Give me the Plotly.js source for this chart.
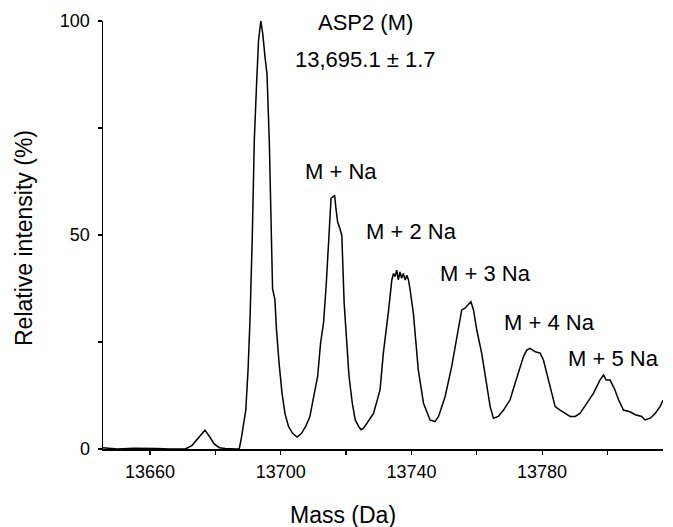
<!DOCTYPE html>
<html>
<head>
<meta charset="utf-8">
<script src="https://cdn.plot.ly/plotly-3.0.1.min.js"></script>
<style>html,body{margin:0;padding:0;background:#fff;}#chart{width:673px;height:527px;}</style>
</head>
<body>
<div id="chart"></div>
<script>
// Mass (Da)
const mass = [
  13645.6, 13650, 13655, 13658, 13662, 13666, 13670.8, 13672.8, 13675.1, 13676.8, 13678.3, 13679.6, 13681.2, 13683.0,
  13686.4, 13687.3, 13688.0, 13689.3, 13690.0, 13690.6, 13691.3, 13691.9, 13692.6, 13693.2, 13693.9, 13694.5,
  13695.2, 13695.8, 13696.5, 13697.1, 13697.5, 13698.2, 13698.7, 13699.5, 13700.4, 13701.3, 13702.4, 13703.7,
  13705.0, 13706.3, 13707.6, 13708.9, 13710.2, 13711.3, 13712.2, 13713.1, 13713.9, 13714.8, 13715.4, 13716.0,
  13716.5, 13716.9, 13717.4, 13718.1, 13718.7, 13719.4, 13720.0, 13720.9, 13721.9, 13722.8, 13723.9, 13724.6,
  13725.3, 13728.4, 13730.4, 13731.4, 13732.9, 13734.0, 13734.5, 13735.0, 13735.5, 13736.0, 13736.5, 13737.0,
  13737.5, 13738.1, 13738.6, 13739.1, 13739.6, 13740.6, 13742.1, 13743.7, 13745.7, 13747.2, 13748.3, 13750.3,
  13752.3, 13753.4, 13754.4, 13755.4, 13756.4, 13757.4, 13758.2, 13759.0, 13760.0, 13761.5, 13762.5, 13764.1,
  13765.1, 13766.6, 13768.2, 13770.2, 13771.7, 13773.3, 13774.3, 13775.3, 13776.3, 13777.9, 13779.4, 13780.4,
  13781.4, 13782.4, 13784.0, 13785.5, 13787.0, 13788.6, 13790.1, 13791.6, 13793.7, 13795.7, 13797.7, 13798.8,
  13799.6, 13800.8, 13802.3, 13803.4, 13804.9, 13806.9, 13808.5, 13810.5, 13811.5, 13813.1, 13814.6, 13816.1,
  13817.0
];
// Relative intensity (%)
const intensity = [
  0.3, 0.0, 0.2, 0.2, 0.1, 0.0, 0.0, 0.8, 3.0, 4.4, 2.8, 1.2, 0.3, 0.1,
  0.0, 0.0, 2.8, 9.1, 18.5, 30.3, 49.9, 71.9, 85.2, 95.4, 100.0, 97.0,
  91.5, 87.6, 71.9, 49.9, 37.4, 35.0, 27.9, 20.0, 13.0, 8.3, 5.2, 3.6,
  2.8, 3.6, 5.2, 7.5, 12.2, 17.0, 24.8, 29.5, 38.1, 49.9, 58.6, 58.9,
  59.3, 56.2, 53.1, 51.5, 49.9, 34.2, 26.4, 17.0, 10.7, 6.8, 5.2, 4.5,
  4.8, 8.3, 13.8, 22.4, 31.7, 39.5, 41.0, 40.3, 41.8, 39.5, 41.4, 39.9,
  41.0, 39.5, 40.6, 39.5, 37.2, 31.7, 18.5, 10.7, 6.8, 6.4, 7.6, 12.2,
  19.2, 23.9, 28.6, 32.5, 32.9, 33.6, 34.4, 32.5, 27.8, 22.4, 17.7, 9.9,
  7.2, 7.6, 9.1, 11.5, 15.3, 19.2, 21.6, 23.1, 23.5, 22.7, 22.4, 20.8,
  17.7, 14.6, 9.9, 9.1, 8.3, 7.6, 7.6, 8.3, 10.7, 13.0, 16.1, 17.3,
  16.1, 16.1, 13.8, 11.5, 9.1, 8.7, 8.0, 7.6, 6.8, 7.2, 8.3, 9.9,
  11.4
];
const xTickVals = [13660, 13700, 13740, 13780];
const xTickText = ["13660", "13700", "13740", "13780"];
const yTickVals = [0, 50, 100];
const yTickText = ["0", "50", "100"];
const peakLabels = ["ASP2 (M)", "13,695.1 ± 1.7", "M + Na", "M + 2 Na", "M + 3 Na", "M + 4 Na", "M + 5 Na"];
const xTitle = "Mass (Da)";
const yTitle = "Relative intensity (%)";

// label placement in pixels (layout only)
const W = 673, H = 527, L = 103, R = 10, T = 21, B = 78;
const pw = W - L - R, ph = H - T - B;
const px = x => (x - L) / pw;
const py = y => (H - B - y) / ph;
const labelPos = [[365, 23], [365, 60], [341, 171], [411, 231], [485, 273], [549, 322], [613, 358]];
const FONT = "Liberation Sans, Arial, Helvetica, sans-serif";

const annotations = peakLabels.map((t, i) => ({
  text: t, xref: "paper", yref: "paper",
  x: px(labelPos[i][0]), y: py(labelPos[i][1]),
  xanchor: "center", yanchor: "middle", showarrow: false,
  font: {family: FONT, size: 22, color: "#000"}
}));
annotations.push({
  text: xTitle, xref: "paper", yref: "paper", x: px(343), y: py(515),
  xanchor: "center", yanchor: "middle", showarrow: false,
  font: {family: FONT, size: 23, color: "#000"}
});
annotations.push({
  text: yTitle, xref: "paper", yref: "paper", x: px(24), y: py(238),
  xanchor: "center", yanchor: "middle", showarrow: false, textangle: -90,
  font: {family: FONT, size: 23, color: "#000"}
});

const trace = {
  x: mass, y: intensity, type: "scatter", mode: "lines",
  line: {color: "#000", width: 1.5}, hoverinfo: "skip"
};

const layout = {
  width: W, height: H,
  margin: {l: L, r: R, t: T, b: B, pad: 0},
  paper_bgcolor: "#fff", plot_bgcolor: "#fff",
  showlegend: false,
  font: {family: FONT, color: "#000"},
  xaxis: {
    range: [13645.6, 13817], tickmode: "array", tickvals: xTickVals, ticktext: xTickText,
    ticks: "outside", ticklen: 4, tickwidth: 1.2, tickcolor: "#000",
    minor: {tickmode: "array", tickvals: [13680, 13720, 13760, 13800], ticks: "outside", ticklen: 4, tickwidth: 1.2, tickcolor: "#000"},
    showline: true, linecolor: "#000", linewidth: 1.5,
    showgrid: false, zeroline: false, tickfont: {family: FONT, size: 18, color: "#000"},
    ticklabelstandoff: 2
  },
  yaxis: {
    range: [0, 100], tickmode: "array", tickvals: yTickVals, ticktext: yTickText,
    ticks: "outside", ticklen: 4, tickwidth: 1.2, tickcolor: "#000",
    minor: {tickmode: "array", tickvals: [25, 75], ticks: "outside", ticklen: 4, tickwidth: 1.2, tickcolor: "#000"},
    showline: true, linecolor: "#000", linewidth: 1.5,
    showgrid: false, zeroline: false, tickfont: {family: FONT, size: 18, color: "#000"},
    ticklabelstandoff: 4
  },
  annotations: annotations
};

Plotly.newPlot("chart", [trace], layout, {displayModeBar: false, staticPlot: true});
</script>
</body>
</html>
